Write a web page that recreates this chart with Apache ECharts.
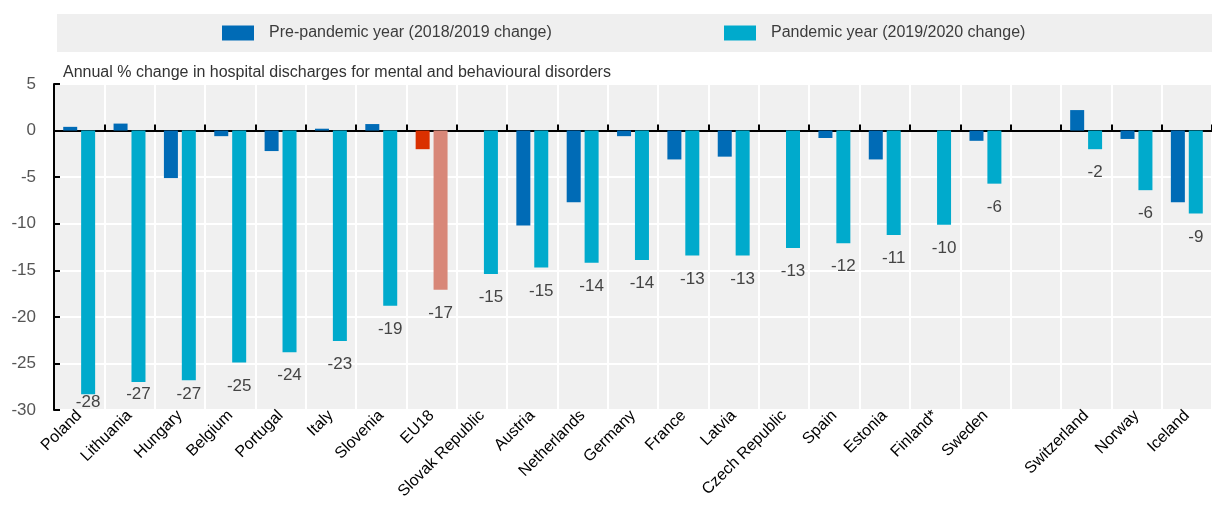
<!DOCTYPE html>
<html>
<head>
<meta charset="utf-8">
<script src="https://cdn.jsdelivr.net/npm/echarts@6/dist/echarts.min.js"></script>
<style>
  html, body { margin: 0; padding: 0; background: #fff; }
  #chart { width: 1212px; height: 508px; }
</style>
</head>
<body>
<div id="chart"></div>
<script>
// categories (empty slot separates EU countries from the others)
var countries = ['Poland', 'Lithuania', 'Hungary', 'Belgium', 'Portugal', 'Italy', 'Slovenia', 'EU18',
  'Slovak Republic', 'Austria', 'Netherlands', 'Germany', 'France', 'Latvia', 'Czech Republic', 'Spain',
  'Estonia', 'Finland*', 'Sweden', '', 'Switzerland', 'Norway', 'Iceland']
// 2018/2019 change
var prePandemic = [0.4, 0.75, -5.1, -0.6, -2.2, 0.2, 0.7, -2.0,
  null, -10.2, -7.7, -0.6, -3.1, -2.8, null, -0.8,
  -3.1, null, -1.1, null, 2.2, -0.9, -7.7]
// 2019/2020 change
var pandemic = [-28.3, -27.0, -26.8, -24.9, -23.8, -22.6, -18.8, -17.1,
  -15.4, -14.7, -14.2, -13.9, -13.4, -13.4, -12.6, -12.1,
  -11.2, -10.1, -5.7, null, -2.0, -6.4, -8.9]
var yTicks = [5, 0, -5, -10, -15, -20, -25, -30]
var seriesNames = ['Pre-pandemic year (2018/2019 change)', 'Pandemic year (2019/2020 change)']

var font = "'Liberation Sans', Arial, sans-serif"
var yMin = yTicks[yTicks.length - 1]
var yMax = yTicks[0]
var pxPerUnit = (410 - 84) / (yMax - yMin)

var chart = echarts.init(document.getElementById('chart'))

var preData = prePandemic.map(function (v, i) {
  if (countries[i] === 'EU18') {
    return { value: v, itemStyle: { color: '#DA3000' } }
  }
  return v
})
var pandData = pandemic.map(function (v, i) {
  if (v === null) return null
  // push labels up when they would fall below the plot area
  var room = (v - yMin) * pxPerUnit
  var dist = Math.max(0, Math.min(15, room - 24))
  var item = { value: v, label: { distance: dist } }
  if (countries[i] === 'EU18') item.itemStyle = { color: '#D88778' }
  return item
})

var option = {
  animation: false,
  title: {
    text: 'Annual % change in hospital discharges for mental and behavioural disorders',
    left: 58,
    top: 60,
    textStyle: { fontFamily: font, fontSize: 16, fontWeight: 'normal', color: '#333' }
  },
  graphic: [
    { type: 'rect', left: 57, top: 14, shape: { width: 1155, height: 38 }, style: { fill: '#EFEFEF' }, z: -1 }
  ],
  legend: [
    {
      data: [seriesNames[0]], left: 222, top: 25, padding: 0,
      icon: 'rect', itemWidth: 32, itemHeight: 15,
      textStyle: { fontFamily: font, fontSize: 16, color: '#3c3c3c', padding: [0, 0, 0, 10] }
    },
    {
      data: [seriesNames[1]], left: 724, top: 25, padding: 0,
      icon: 'rect', itemWidth: 32, itemHeight: 15,
      textStyle: { fontFamily: font, fontSize: 16, color: '#3c3c3c', padding: [0, 0, 0, 10] }
    }
  ],
  grid: {
    left: 54, right: 0, top: 84, bottom: 98,
    show: true, backgroundColor: '#F0F0F0', borderWidth: 0
  },
  xAxis: [
    {
      type: 'category',
      data: countries,
      axisLine: { show: false, onZero: false },
      axisTick: { show: false },
      splitLine: { show: true, lineStyle: { color: '#fff', width: 2 } },
      axisLabel: {
        interval: 0, rotate: 45, margin: 3,
        fontFamily: font, fontSize: 16, color: '#000'
      }
    },
    {
      type: 'category',
      data: countries,
      position: 'bottom',
      axisLine: { show: true, onZero: true, lineStyle: { color: '#000', width: 2 } },
      axisTick: { show: true, inside: true, length: 6, interval: 0, lineStyle: { color: '#000', width: 2 } },
      axisLabel: { show: false },
      splitLine: { show: false }
    }
  ],
  yAxis: {
    type: 'value',
    min: yMin, max: yMax, interval: 5,
    axisLine: { show: true, lineStyle: { color: '#000', width: 2 } },
    axisTick: { show: true, inside: true, length: 6, lineStyle: { color: '#000', width: 2 } },
    splitLine: { show: true, lineStyle: { color: '#fff', width: 2 } },
    axisLabel: { margin: 18, fontFamily: font, fontSize: 17, color: '#555' }
  },
  series: [
    {
      name: seriesNames[0],
      type: 'bar',
      xAxisIndex: 0,
      data: preData,
      barWidth: 14,
      barGap: '28%',
      itemStyle: { color: '#006BB6' }
    },
    {
      name: seriesNames[1],
      type: 'bar',
      xAxisIndex: 0,
      data: pandData,
      barWidth: 14,
      barGap: '28%',
      itemStyle: { color: '#00AACC' },
      label: {
        show: true,
        position: 'bottom',
        fontFamily: font,
        fontSize: 17,
        color: '#444',
        formatter: function (p) { return Math.round(p.value) }
      }
    }
  ]
}
chart.setOption(option)
</script>
</body>
</html>
